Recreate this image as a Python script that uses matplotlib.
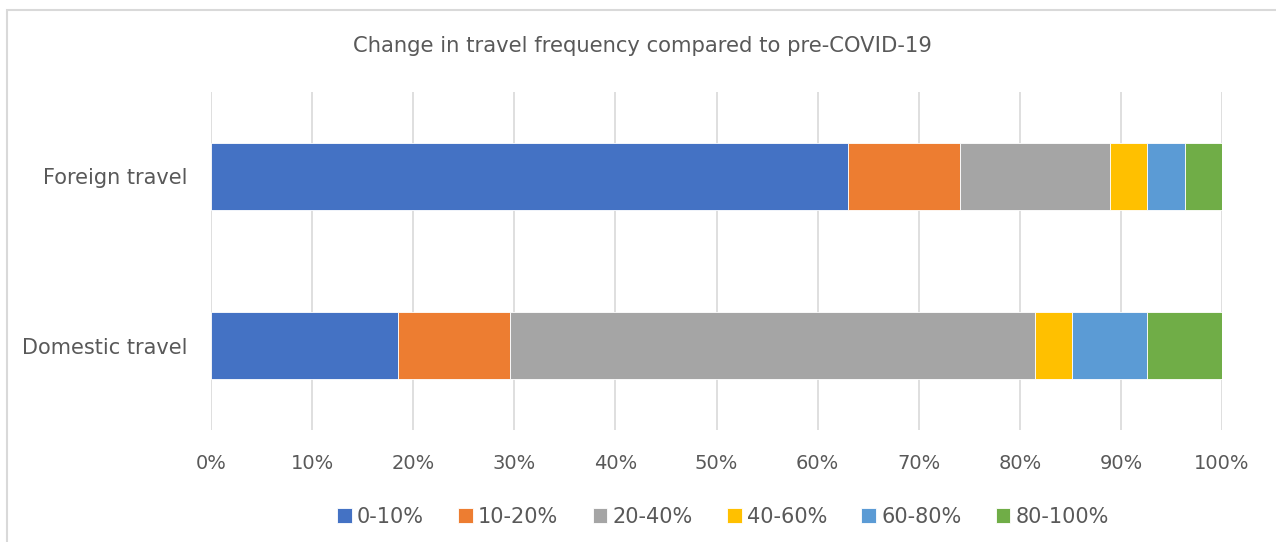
import numpy as np
import matplotlib.pyplot as plt
from matplotlib.patches import Rectangle

# data (share of respondents, %)
categories = ["Domestic travel", "Foreign travel"]
bands = ["0-10%", "10-20%", "20-40%", "40-60%", "60-80%", "80-100%"]
domestic = [18.5, 11.1, 51.9, 3.7, 7.4, 7.4]
foreign = [63.0, 11.1, 14.8, 3.7, 3.7, 3.7]
colors = ["#4472C4", "#ED7D31", "#A5A5A5", "#FFC000", "#5B9BD5", "#70AD47"]
ticks = np.arange(0, 101, 10)

txt = "#595959"
plt.rcParams['font.family'] = ['DejaVu Sans']

fig = plt.figure(figsize=(12.76, 5.42), dpi=100)
W, H = 1276, 542
ax = fig.add_axes([211 / W, 1 - 430 / H, (1222 - 211) / W, (430 - 92) / H])

# chart frame (border runs off the right and bottom edges)
fig.patches.append(Rectangle((7 / W, -0.05), 1.2, 1 - 10 / H + 0.05,
                             transform=fig.transFigure, fill=False,
                             edgecolor="#D9D9D9", linewidth=1.5))

vals = np.array([domestic, foreign])
left = np.zeros(len(categories))
for i, b in enumerate(bands):
    ax.barh(categories, vals[:, i], left=left, height=0.4, color=colors[i],
            label=b, edgecolor="white", linewidth=0.6, zorder=3)
    left += vals[:, i]

ax.set_xlim(0, 100)
ax.set_ylim(-0.5, 1.5)
ax.set_xticks(ticks)
ax.set_xticklabels([f"{t}%" for t in ticks])
ax.grid(axis="x", color="#D9D9D9", linewidth=1.2, zorder=0)
for s in ax.spines.values():
    s.set_visible(False)
ax.tick_params(length=0, colors=txt)
ax.tick_params(axis="x", pad=17, labelsize=14)
ax.tick_params(axis="y", pad=17, labelsize=15)

fig.text(642 / W, 1 - 46 / H, "Change in travel frequency compared to pre-COVID-19",
         ha="center", va="center", fontsize=15.2, color=txt)

fig.legend(loc="center", bbox_to_anchor=(723 / W, 1 - 517 / H), ncol=6,
           frameon=False, fontsize=15, labelcolor=txt, handlelength=0.7,
           handleheight=0.7, handletextpad=0.25, columnspacing=1.65)

fig.savefig("out.png", dpi=100)
